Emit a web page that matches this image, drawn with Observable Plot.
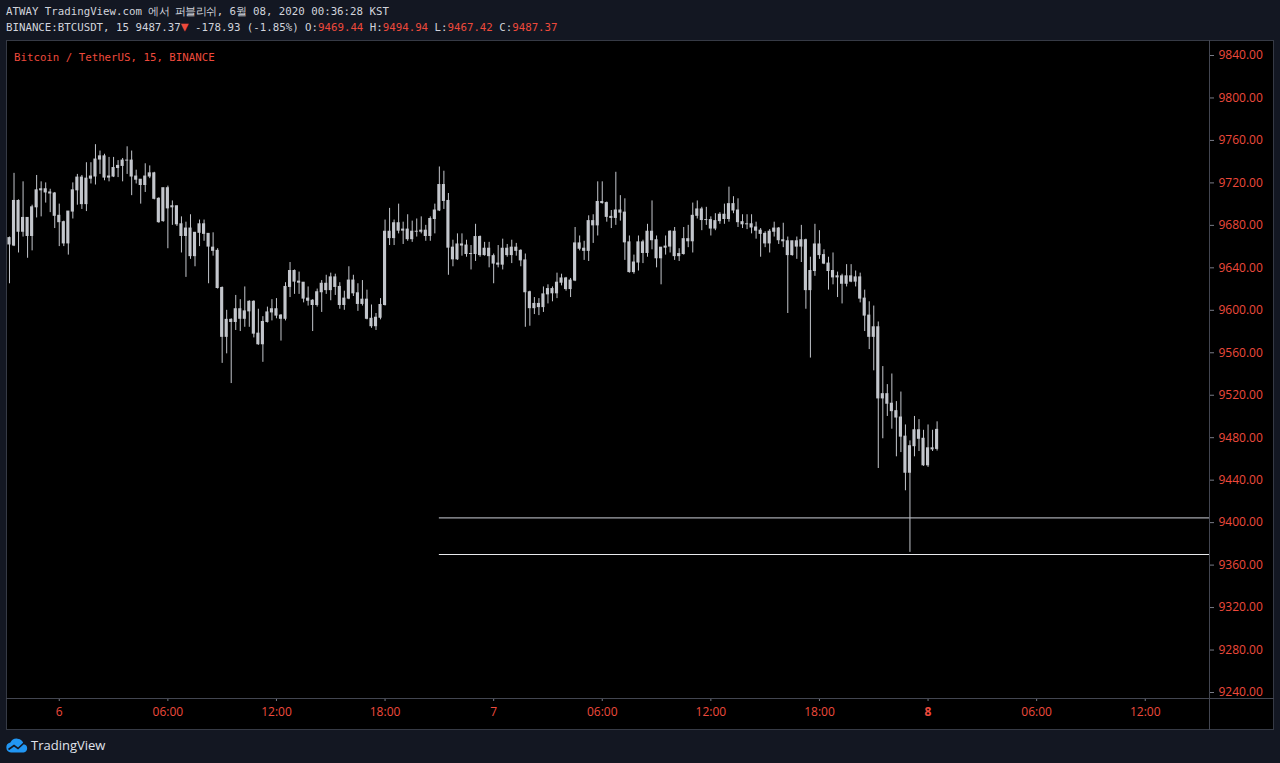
<!DOCTYPE html>
<html>
<head>
<meta charset="utf-8">
<script src="https://cdn.jsdelivr.net/npm/d3@7"></script>
<script src="https://cdn.jsdelivr.net/npm/@observablehq/plot@0.6"></script>
<style>
  html, body { margin: 0; padding: 0; }
  body { width: 1280px; height: 763px; background: #131722; position: relative; overflow: hidden; }
  .mono { font-family: "DejaVu Sans Mono", "Liberation Mono", monospace; font-size: 10.75px; white-space: pre; position: absolute; color: #d1d4dc; }
  .red { color: #ee4a3c; }
  .tri { color: #ee4a3c; font-size: 13px; line-height: 10px; }
  #pane { position: absolute; left: 6px; top: 40px; width: 1268px; height: 690px; box-sizing: border-box; background: #000; border: 1px solid #363a45; }
  .sep { position: absolute; background: #434651; }
  #chart { position: absolute; left: 7px; top: 40px; }
  #footer { position: absolute; left: 31px; top: 736px; font-family: "Open Sans", sans-serif; font-size: 13px; color: #e0e3eb; }
  #logo { position: absolute; left: 5px; top: 737px; }
</style>
</head>
<body>
<div class="mono" id="h1" style="left:6px; top:5px;">ATWAY TradingView.com <span style="letter-spacing:-0.6px">에서 퍼블리쉬</span>, 6<span style="letter-spacing:-0.6px">월</span> 08, 2020 00:36:28 KST</div>
<div class="mono" id="h2" style="left:6px; top:21px;"></div>
<div id="pane"></div>
<div id="chart"></div>
<div class="sep" style="left:1209px; top:40px; width:1px; height:690px;"></div>
<div class="sep" style="left:6px; top:698px; width:1268px; height:1px;"></div>
<div class="mono red" style="left:14px; top:51px;">Bitcoin / TetherUS, 15, BINANCE</div>
<svg id="logo" width="24" height="16" viewBox="0 0 24 16">
  <path d="M6 15.5 a5 5 0 0 1 -0.6 -9.9 a7 7 0 0 1 13.2 1.6 a4.2 4.2 0 0 1 0 8.3 z" fill="#2196f3"/>
  <polyline points="3.5,12.5 9,8.5 13,11.5 19.5,5.5" stroke="#131722" stroke-width="1.6" fill="none"/>
</svg>
<div id="footer">TradingView</div>
<script>
// ---- data: BINANCE BTCUSDT 15-minute candles, first candle 5 June 2020 21:15 (KST)
const firstCandle = "2020-06-05T21:15:00Z";
const intervalMinutes = 15;

const opens = [
9668,9661,9703,9674,9687,9670,9697,9713,9714,9711,
9710,9689,9683,9663,9693,9713,9725,9700,9724,9726,
9742,9745,9725,9726,9734,9736,9741,9741,9726,9723,
9718,9726,9729,9705,9684,9715,9697,9698,9681,9670,
9677,9651,9673,9681,9672,9659,9656,9621,9575,9591,
9589,9601,9592,9599,9608,9578,9568,9589,9598,9601,
9595,9592,9622,9637,9627,9626,9611,9609,9605,9617,
9625,9619,9631,9622,9605,9611,9628,9616,9606,9610,
9592,9585,9593,9605,9674,9668,9682,9675,9676,9667,
9674,9674,9675,9670,9686,9694,9718,9703,9659,9648,
9662,9661,9653,9653,9669,9652,9658,9651,9644,9643,
9658,9652,9659,9656,9647,9617,9602,9606,9603,9615,
9620,9616,9626,9630,9620,9628,9663,9658,9656,9684,
9680,9702,9701,9688,9687,9694,9692,9664,9636,9645,
9664,9654,9674,9666,9649,9659,9660,9674,9651,9653,
9667,9665,9689,9695,9685,9685,9677,9684,9690,9686,
9700,9694,9683,9681,9681,9678,9675,9672,9663,9674,
9677,9666,9665,9652,9665,9660,9666,9619,9637,9662,
9652,9644,9637,9631,9632,9625,9632,9627,9631,9611,
9595,9575,9584,9517,9521,9512,9505,9499,9481,9447,
9472,9487,9479,9454,9470,9469.44];

const highs = [
9669,9729,9704,9721,9687,9699,9727,9721,9720,9714,
9711,9700,9684,9693,9720,9728,9727,9739,9739,9756,
9750,9747,9744,9744,9741,9743,9754,9750,9732,9723,
9738,9736,9730,9706,9715,9717,9703,9698,9688,9683,
9690,9673,9685,9685,9672,9673,9658,9622,9600,9592,
9614,9610,9622,9609,9609,9601,9594,9603,9610,9611,
9596,9626,9645,9638,9636,9626,9622,9610,9620,9628,
9633,9635,9634,9626,9618,9641,9633,9625,9628,9619,
9605,9597,9611,9685,9696,9685,9700,9683,9690,9684,
9686,9688,9680,9688,9700,9735,9731,9710,9666,9672,
9672,9666,9661,9681,9670,9664,9664,9653,9661,9667,
9662,9666,9663,9657,9653,9618,9612,9611,9622,9624,
9622,9635,9634,9631,9630,9678,9670,9665,9689,9690,
9721,9721,9702,9694,9730,9708,9705,9670,9652,9670,
9666,9681,9703,9670,9659,9670,9675,9678,9658,9678,
9680,9701,9703,9697,9697,9688,9691,9692,9700,9716,
9707,9705,9690,9690,9690,9683,9677,9674,9676,9683,
9678,9682,9669,9665,9669,9680,9667,9650,9681,9675,
9657,9650,9654,9636,9634,9643,9643,9637,9635,9619,
9608,9604,9589,9547,9530,9540,9514,9523,9492,9477,
9500,9497,9487,9492,9487,9494.94];

const lows = [
9625,9660,9654,9669,9649,9656,9687,9688,9701,9692,
9677,9660,9660,9652,9686,9699,9695,9693,9719,9718,
9728,9722,9721,9725,9725,9721,9728,9708,9719,9700,
9711,9724,9704,9682,9683,9658,9680,9679,9654,9631,
9648,9641,9660,9665,9625,9651,9620,9550,9559,9531,
9581,9580,9584,9584,9574,9567,9551,9588,9590,9592,
9571,9590,9612,9615,9615,9607,9604,9580,9603,9598,
9615,9609,9614,9601,9600,9610,9613,9599,9604,9591,
9583,9581,9591,9604,9661,9661,9672,9662,9665,9664,
9669,9672,9665,9665,9672,9693,9695,9633,9641,9647,
9651,9650,9638,9646,9650,9651,9640,9625,9640,9638,
9650,9644,9651,9641,9584,9585,9596,9595,9598,9606,
9608,9611,9623,9618,9612,9627,9656,9647,9646,9663,
9670,9700,9683,9677,9680,9684,9647,9635,9634,9637,
9644,9650,9657,9640,9624,9652,9654,9647,9646,9652,
9659,9654,9686,9675,9680,9670,9675,9681,9681,9683,
9691,9678,9677,9676,9672,9667,9650,9659,9654,9669,
9662,9659,9597,9651,9648,9645,9601,9555,9632,9648,
9643,9619,9624,9612,9606,9622,9626,9622,9607,9580,
9563,9543,9451,9479,9500,9488,9462,9466,9430,9372,
9462,9467,9453,9452,9467,9467.42];

const closes = [
9662,9703,9674,9687,9670,9697,9713,9714,9711,9710,
9689,9683,9663,9693,9713,9725,9700,9724,9726,9742,
9745,9725,9726,9734,9736,9741,9741,9726,9723,9718,
9726,9729,9705,9683,9715,9696,9698,9681,9670,9677,
9651,9673,9681,9672,9660,9656,9621,9575,9591,9589,
9601,9592,9599,9608,9578,9568,9589,9598,9601,9595,
9592,9622,9637,9627,9626,9611,9609,9605,9617,9625,
9619,9631,9622,9605,9611,9628,9616,9606,9610,9592,
9585,9593,9605,9674,9668,9682,9675,9676,9667,9674,
9674,9675,9670,9686,9694,9718,9703,9659,9648,9662,
9661,9653,9653,9669,9652,9658,9651,9644,9643,9658,
9652,9659,9656,9647,9617,9602,9606,9603,9615,9620,
9616,9626,9630,9620,9628,9663,9658,9656,9684,9680,
9702,9701,9688,9687,9694,9692,9664,9636,9645,9664,
9654,9674,9666,9649,9659,9660,9674,9651,9653,9667,
9665,9689,9695,9685,9685,9677,9684,9690,9686,9700,
9694,9683,9681,9681,9678,9675,9672,9663,9674,9677,
9666,9665,9652,9665,9660,9666,9619,9637,9662,9652,
9644,9637,9631,9632,9625,9632,9627,9631,9611,9595,
9575,9584,9517,9521,9512,9505,9499,9481,9447,9472,
9487,9479,9454,9470,9469,9487.37];

// horizontal rays drawn on the chart
const levels = [9404.5, 9370];
const levelStart = "2020-06-06T21:00:00Z";

// time axis ticks
const tickTimes = ["2020-06-06T00:00Z","2020-06-06T06:00Z","2020-06-06T12:00Z","2020-06-06T18:00Z",
  "2020-06-07T00:00Z","2020-06-07T06:00Z","2020-06-07T12:00Z","2020-06-07T18:00Z",
  "2020-06-08T00:00Z","2020-06-08T06:00Z","2020-06-08T12:00Z"];
const tickLabels = ["6","06:00","12:00","18:00","7","06:00","12:00","18:00","8","06:00","12:00"];
const boldTick = "8";

// price axis
const priceTicks = d3.range(9240, 9841, 40);
const prevClose = 9666.30;

// ---- build
const step = intervalMinutes * 60000;
const t0 = new Date(firstCandle).getTime();
const candles = opens.map((o, i) => {
  const c = closes[i];
  return {
    t: new Date(t0 + i * step),
    t1: new Date(t0 + i * step - step / 2),
    t2: new Date(t0 + i * step + step / 2),
    o, c,
    h: Math.max(highs[i], o, c),
    l: Math.min(lows[i], o, c),
    bt: Math.max(o, c), bb: Math.min(o, c)
  };
});

const xDomain = [new Date(t0 - 0.44 * step), new Date(t0 + 265.2 * step)];
const yDomain = [9234.35, 9854.13];
const ticks = tickTimes.map(s => new Date(s));
const labelOf = new Map(ticks.map((d, i) => [+d, tickLabels[i]]));
const normalTicks = ticks.filter((d, i) => tickLabels[i] !== boldTick);
const boldTicks = ticks.filter((d, i) => tickLabels[i] === boldTick);

const RED = "#ee4a3c";
const GRID = "#787b86";
const CANDLE = "#c3c6cc";

const chart = Plot.plot({
  width: 1266,
  height: 689,
  marginLeft: 0, marginRight: 64, marginTop: 0, marginBottom: 31,
  style: { background: "transparent", fontFamily: "'Open Sans', sans-serif", fontSize: "12px", overflow: "visible" },
  x: { type: "utc", domain: xDomain },
  y: { domain: yDomain },
  marks: [
    Plot.ruleY([levels[0]], { y: d => d, x1: new Date(levelStart), x2: xDomain[1], stroke: "#a3a6ad", strokeWidth: 1.4 }),
    Plot.ruleY([levels[1]], { y: d => d, x1: new Date(levelStart), x2: xDomain[1], stroke: "#e8e9ec", strokeWidth: 1.2 }),
    Plot.ruleX(candles, { x: "t", y1: "l", y2: "h", stroke: CANDLE, strokeWidth: 1 }),
    Plot.rect(candles, { x1: "t1", x2: "t2", y1: "bb", y2: "bt", fill: CANDLE,
      insetLeft: 0.7, insetRight: 0.7, insetTop: -0.5, insetBottom: -0.5 }),
    Plot.axisY({ anchor: "right", ticks: priceTicks, tickFormat: d => d.toFixed(2), tickSize: 4, tickPadding: 5,
      color: RED, stroke: GRID, fontSize: 12 }),
    Plot.axisX({ anchor: "bottom", ticks: normalTicks, tickFormat: d => labelOf.get(+d), tickSize: 3, tickPadding: 6,
      color: RED, stroke: GRID, fontSize: 12 }),
    Plot.axisX({ anchor: "bottom", ticks: boldTicks, tickFormat: d => labelOf.get(+d), tickSize: 3, tickPadding: 6,
      color: RED, stroke: GRID, fontSize: 12, fontWeight: "bold" })
  ]
});
document.getElementById("chart").appendChild(chart);

// ---- header (from last candle)
const n = opens.length - 1;
const chg = closes[n] - prevClose;
const pct = chg / prevClose * 100;
const f = v => v.toFixed(2);
document.getElementById("h2").innerHTML =
  `BINANCE:BTCUSDT, 15 ${f(closes[n])}<span class="tri">▼</span> ${f(chg)} (${pct.toFixed(2)}%) ` +
  `O:<span class="red">${f(opens[n])}</span> H:<span class="red">${f(highs[n])}</span> ` +
  `L:<span class="red">${f(lows[n])}</span> C:<span class="red">${f(closes[n])}</span>`;
</script>
</body>
</html>
